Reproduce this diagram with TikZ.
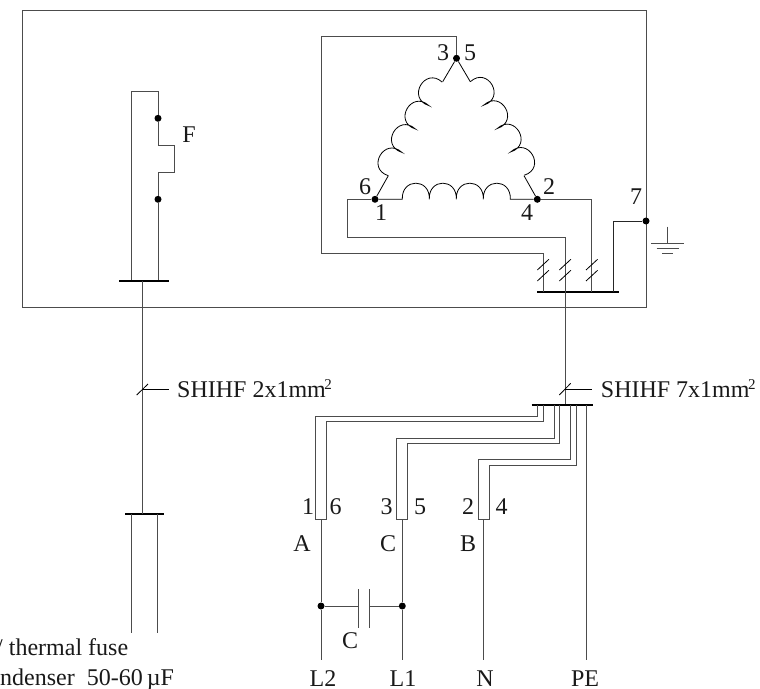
\documentclass[tikz,border=0pt]{standalone}
\usepackage{fontspec}
\setmainfont{Liberation Serif}
\tikzset{
  wire/.style={line width=1pt,draw=black!70},
  thin wire/.style={line width=0.9pt,draw=black!85},
  busbar/.style={line width=2pt,draw=black},
  dot/.style={circle,fill=black,inner sep=0pt,minimum size=7pt},
  lbl/.style={font=\fontsize{24}{26}\selectfont,inner sep=0pt,text=black!90},
  tick/.style={line width=0.8pt,draw=black},
  coil/.style={line width=0.8pt,draw=black}
}
\newcommand{\hump}{.. controls +(-5,-23) and +(5,-23) .. ++(27,0)}
\newcommand{\flathump}{.. controls +(-1,-21.5) and +(1,-21.5) .. ++(27,0)}
\newcommand{\sqr}{\kern-1.5pt\raisebox{7.5pt}{\fontsize{15}{15}\selectfont 2}}
\begin{document}
\begin{tikzpicture}[x=1pt,y=-1pt]
\useasboundingbox (0,0) rectangle (760,688);
% frame
\draw[wire] (22,10) rectangle (646,307);
% fuse
\node[dot] (fa) at (158,118.3) {};
\node[dot] (fb) at (158,199.3) {};
\coordinate (busLa) at (119.3,280.7);
\coordinate (busLb) at (169.3,280.7);
\coordinate (fl) at (131,280.7);
\coordinate (fr) at (158,280.7);
\draw[wire] (fl) -- (131,91) -| (fa);
\draw[wire] (fa) -- (158,145.3) -- (174.3,145.3) -- (174.3,172.7) -- (158,172.7) -- (fb) -- (fr);
\draw[busbar] (busLa) -- (busLb);
\coordinate (busCa) at (125,513.7);
\coordinate (busCb) at (164.3,513.7);
\coordinate (busC) at (142,513.7);
\draw[busbar] (busCa) -- (busCb);
\draw[wire] (142,280.7) -- (busC);
\coordinate (endA) at (131,633.3);
\coordinate (endB) at (157.7,633.3);
\draw[wire] (131,513.7) -- (endA);
\draw[wire] (157.7,513.7) -- (endB);
\draw[tick] (136.7,395) -- (148,384);
\draw[tick] (142,389) -- (169,389);
% motor
\node[dot] (t35) at (456.5,58.3) {};
\node[dot] (t61) at (375,199.3) {};
\node[dot] (t24) at (537.3,199.3) {};
\node[dot] (t7) at (646,221) {};
\coordinate (busRa) at (537.3,291.7);
\coordinate (busRb) at (619.3,291.7);
\draw[busbar] (busRa) -- (busRb);
\draw[wire] (t35) -- (456.5,36.7) -- (321,36.7) -- (321,253.3) -- (543.3,253.3) -- (543.3,291.7);
\draw[wire] (t61) -- (347.7,199.3) -- (347.7,237.7) -- (565,237.7) -- (565,405);
\draw[wire] (t24) -- (591.7,199.3) -- (591.7,291.7);
\draw[thin wire] (613.3,291.7) -- (613.3,221) -- (t7);
% coils
\draw[coil] (t61) -- (402.3,199.3) \flathump \flathump \flathump \flathump -- (t24);
\draw[coil] (t61) -- (388.3,175.7);
\draw[coil,shift={(388.3,175.7)},rotate=60] (0,0) \hump \hump \hump \hump;
\draw[coil] (442.7,81.7) -- (t35) -- (470.3,81.7);
\draw[coil,shift={(470.3,81.7)},rotate=-60] (0,0) \hump \hump \hump \hump;
\draw[coil] (524,175.7) -- (t24);
% ticks
\foreach \xa in {537.3,559.3,586}{
  \draw[tick] (\xa,270) -- ++(11.6,-10.7);
  \draw[tick] (\xa,281) -- ++(11.6,-10.7);
}
% earth
\draw[wire] (667.7,226.7) -- (667.7,243);
\draw[wire] (651,243) -- (684,243);
\draw[wire] (656.7,248.3) -- (678.7,248.3);
\draw[wire] (662.3,253.7) -- (673,253.7);
% cable
\coordinate (busBa) at (531.7,405);
\coordinate (busBb) at (592.7,405);
\draw[busbar] (busBa) -- (busBb);
\draw[tick] (559.3,395) -- (570.7,383.3);
\draw[tick] (565,389) -- (592.3,389);
% sleeves
\draw[wire] (537.7,405) -- (537.7,416) -- (315.7,416) -- (315.7,519) -- (326,519) -- (326,421.7) -- (543.3,421.7) -- (543.3,405);
\draw[wire] (554,405) -- (554,438) -- (396.7,438) -- (396.7,519) -- (407.7,519) -- (407.7,443.3) -- (559.3,443.3) -- (559.3,405);
\draw[wire] (570.3,405) -- (570.3,459.7) -- (478.3,459.7) -- (478.3,519) -- (489.3,519) -- (489.3,465.3) -- (576,465.3) -- (576,405);
% leads
\node[dot] (ca) at (321,606) {};
\node[dot] (cb) at (402.3,606) {};
\coordinate (L2) at (321,660);
\coordinate (L1) at (402.3,660);
\coordinate (N) at (483.7,660);
\coordinate (PE) at (586,660);
\draw[wire] (321,519) -- (ca) -- (L2);
\draw[wire] (402.3,519) -- (cb) -- (L1);
\draw[wire] (483.7,519) -- (N);
\draw[wire] (586,405) -- (PE);
\draw[wire] (ca) -- (358.7,606);
\draw[wire] (cb) -- (369.7,606);
\draw[wire] (358.7,589.3) -- (358.7,627.7);
\draw[wire] (369.7,589.3) -- (369.7,627.7);
% labels
\node[lbl] (l3) at (443,53) {3};
\node[lbl] (l5) at (470,53) {5};
\node[lbl] (l6) at (365,187) {6};
\node[lbl] (l1) at (381,213) {1};
\node[lbl] (l2) at (549,187) {2};
\node[lbl] (l4) at (527,213) {4};
\node[lbl] (l7) at (636,197) {7};
\node[lbl] (lF) at (189,135) {F};
\node[lbl,anchor=base west] (s1) at (177,397) {SHIHF 2x1mm\sqr};
\node[lbl,anchor=base west] (s2) at (600.7,397) {SHIHF 7x1mm\sqr};
\node[lbl] at (308,506.7) {1};
\node[lbl] at (335.7,506.7) {6};
\node[lbl] at (386.7,506.7) {3};
\node[lbl] at (420,506.7) {5};
\node[lbl] at (468,506.7) {2};
\node[lbl] at (501.7,506.7) {4};
\node[lbl] at (302,544) {A};
\node[lbl] at (388,544) {C};
\node[lbl] at (468,544) {B};
\node[lbl] at (350,641) {C};
\node[lbl] at (323,679) {L2};
\node[lbl] at (403,679) {L1};
\node[lbl] at (485,679) {N};
\node[lbl] at (585,679) {PE};
\node[lbl,anchor=base west] at (-4,655.7) {/ thermal fuse};
\node[lbl,anchor=base west] at (0,685) {ndenser\ \ 50-60\,µF};
\end{tikzpicture}
\end{document}
